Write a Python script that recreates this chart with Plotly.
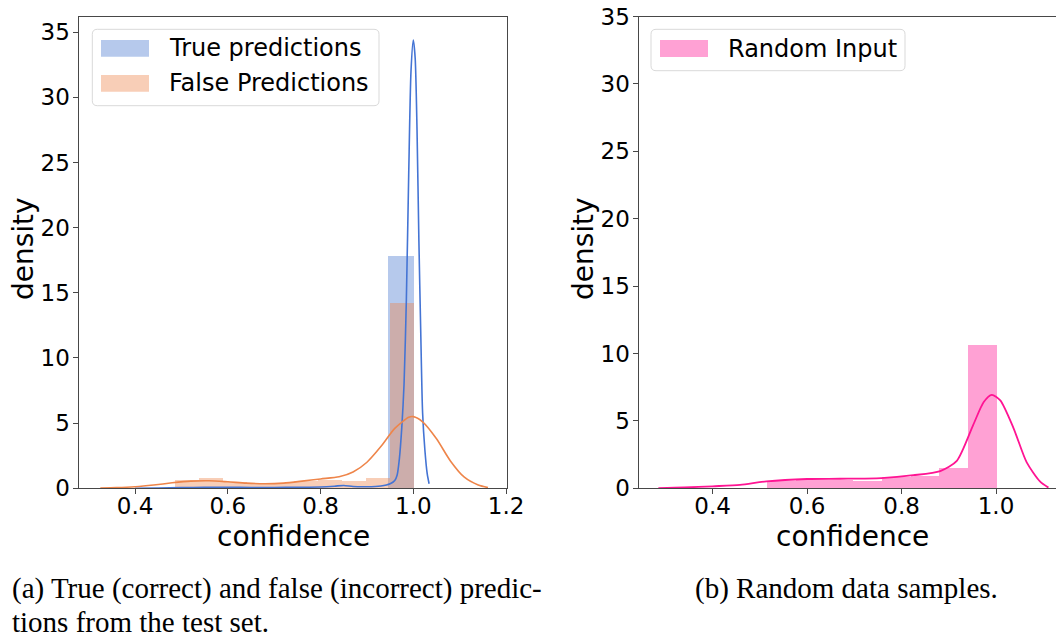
import plotly.graph_objects as go

# ---------------- data ----------------
# (a) histogram densities on the confidence axis
true_bin_edges = [0.437, 0.4933, 0.5496, 0.6059, 0.6622, 0.7185, 0.7748, 0.8311, 0.8874, 0.9437, 1.0]
true_density = [0.01, 0.02, 0.02, 0.01, 0.02, 0.02, 0.03, 0.05, 0.06, 17.83]

false_bin_edges = [0.4846, 0.5362, 0.5877, 0.6393, 0.6908, 0.7424, 0.7939, 0.8455, 0.8970, 0.9486, 1.0]
false_density = [0.64, 0.80, 0.50, 0.45, 0.45, 0.62, 0.70, 0.62, 0.82, 14.24]

# (a) kernel density estimates
true_kde_x = [0.40, 0.45, 0.50, 0.55, 0.60, 0.65, 0.70, 0.75, 0.80, 0.83, 0.85, 0.87, 0.90,
              0.93, 0.95, 0.96, 0.965, 0.97, 0.975, 0.98, 0.985, 0.99, 0.995, 1.0,
              1.004, 1.008, 1.012, 1.016, 1.02, 1.025, 1.03, 1.034]
true_kde_y = [0.0, 0.02, 0.05, 0.08, 0.08, 0.06, 0.06, 0.08, 0.10, 0.16, 0.22, 0.14, 0.12,
              0.18, 0.35, 0.6, 1.0, 2.3, 4.6, 8.0, 14.5, 24.0, 32.0, 34.4,
              33.0, 27.5, 19.0, 12.0, 5.8, 2.9, 1.1, 0.35]

false_kde_x = [0.325, 0.36, 0.40, 0.44, 0.48, 0.52, 0.56, 0.60, 0.64, 0.68, 0.72, 0.76,
               0.80, 0.84, 0.87, 0.90, 0.93, 0.96, 0.99, 1.00, 1.02, 1.05, 1.08, 1.11,
               1.14, 1.161]
false_kde_y = [0.02, 0.05, 0.12, 0.25, 0.42, 0.55, 0.58, 0.50, 0.40, 0.35, 0.40, 0.55,
               0.72, 0.88, 1.25, 2.0, 3.2, 4.6, 5.45, 5.5, 5.1, 3.8, 2.1, 0.85,
               0.25, 0.05]

# (b) random input
random_bin_edges = [0.5144, 0.5751, 0.6358, 0.6965, 0.7572, 0.8179, 0.8786, 0.9393, 1.0]
random_density = [0.61, 0.63, 0.62, 0.61, 0.87, 0.95, 1.58, 10.69]

random_kde_x = [0.285, 0.34, 0.40, 0.458, 0.514, 0.60, 0.67, 0.757, 0.825, 0.882, 0.917,
                0.952, 0.974, 0.991, 1.009, 1.037, 1.065, 1.093, 1.111]
random_kde_y = [0.02, 0.06, 0.15, 0.25, 0.51, 0.69, 0.71, 0.76, 0.97, 1.28, 2.04,
                4.73, 6.4, 6.93, 6.52, 4.47, 1.92, 0.51, 0.05]

x_ticks_a = [0.4, 0.6, 0.8, 1.0, 1.2]
x_ticks_b = [0.4, 0.6, 0.8, 1.0]
y_ticks = [0, 5, 10, 15, 20, 25, 30, 35]

legend_a = ["True predictions", "False Predictions"]
legend_b = ["Random Input"]
caption_a = ["(a) True (correct) and false (incorrect) predic-", "tions from the test set."]
caption_b = "(b) Random data samples."

# ---------------- styling ----------------
W, H = 1056, 637
BLUE = "#4474d4"
ORANGE = "#ee854a"
PINK = "#ff1493"
BLUE_FILL = "rgba(72,120,208,0.4)"
ORANGE_FILL = "rgba(238,133,74,0.4)"
PINK_FILL = "rgba(255,20,147,0.4)"
SPINE = "#474747"
SANS = "DejaVu Sans"
SERIF = "Liberation Serif"


def px(x):
    return x / W


def py(y):
    return 1 - y / H


def bars(edges, heights, color, xa, ya):
    centers = [(a + b) / 2 for a, b in zip(edges[:-1], edges[1:])]
    widths = [b - a for a, b in zip(edges[:-1], edges[1:])]
    return go.Bar(x=centers, y=heights, width=widths, marker=dict(color=color, line=dict(width=0)),
                  xaxis=xa, yaxis=ya, showlegend=False, hoverinfo="skip")


def kde(xs, ys, color, width, xa, ya):
    return go.Scatter(x=xs, y=ys, mode="lines", line=dict(color=color, width=width, shape="spline", smoothing=0.7),
                      xaxis=xa, yaxis=ya, showlegend=False, hoverinfo="skip")


fig = go.Figure()
fig.add_trace(bars(true_bin_edges, true_density, BLUE_FILL, "x", "y"))
fig.add_trace(bars(false_bin_edges, false_density, ORANGE_FILL, "x", "y"))
fig.add_trace(kde(true_kde_x, true_kde_y, BLUE, 1.6, "x", "y"))
fig.add_trace(kde(false_kde_x, false_kde_y, ORANGE, 1.6, "x", "y"))
fig.add_trace(bars(random_bin_edges, random_density, PINK_FILL, "x2", "y2"))
fig.add_trace(kde(random_kde_x, random_kde_y, PINK, 1.8, "x2", "y2"))

tick_font = dict(family=SANS, size=23, color="black")
axis_common = dict(showgrid=False, zeroline=False, showline=True, linecolor=SPINE, linewidth=1,
                   ticks="outside", ticklen=5, tickwidth=1, tickcolor=SPINE, tickfont=tick_font,
                   automargin=False)
x_common = dict(axis_common, ticklabelstandoff=-8)
y_common = dict(axis_common, ticklabelstandoff=-2)

y_dom = [py(488.3), py(16.5)]
fig.update_layout(
    width=W, height=H,
    margin=dict(l=0, r=0, t=0, b=0, pad=0),
    paper_bgcolor="white", plot_bgcolor="white",
    barmode="overlay", bargap=0,
    showlegend=False,
    xaxis=dict(domain=[px(78.5), px(507)], range=[0.278, 1.202], anchor="y", mirror=True,
               tickvals=x_ticks_a, ticktext=[f"{v:.1f}" for v in x_ticks_a], **x_common),
    yaxis=dict(domain=y_dom, range=[0, 36.2], anchor="x", mirror=True,
               tickvals=y_ticks, ticktext=[str(v) for v in y_ticks], **y_common),
    xaxis2=dict(domain=[px(638.5), 1.0], range=[0.243, 1.127], anchor="y2", mirror=True,
                tickvals=x_ticks_b, ticktext=[f"{v:.1f}" for v in x_ticks_b], **x_common),
    yaxis2=dict(domain=y_dom, range=[0, 35], anchor="x2", mirror=False,
                tickvals=y_ticks, ticktext=[str(v) for v in y_ticks], **y_common),
)


def rounded_rect(x0, y0, x1, y1, r=5):
    # pixel box -> paper path with rounded corners
    rx, ry = r / W, r / H
    X0, X1 = px(x0), px(x1)
    Y0, Y1 = py(y1), py(y0)
    return (f"M {X0 + rx},{Y0} L {X1 - rx},{Y0} Q {X1},{Y0} {X1},{Y0 + ry} "
            f"L {X1},{Y1 - ry} Q {X1},{Y1} {X1 - rx},{Y1} L {X0 + rx},{Y1} "
            f"Q {X0},{Y1} {X0},{Y1 - ry} L {X0},{Y0 + ry} Q {X0},{Y0} {X0 + rx},{Y0} Z")


shapes = []
annotations = []

# legend frames
shapes.append(dict(type="path", xref="paper", yref="paper", path=rounded_rect(92.3, 29.3, 379, 105.7),
                   line=dict(color="#d9d9d9", width=1), fillcolor="rgba(255,255,255,0.8)", layer="above"))
shapes.append(dict(type="path", xref="paper", yref="paper", path=rounded_rect(651, 29.3, 905, 70.7),
                   line=dict(color="#d9d9d9", width=1), fillcolor="rgba(255,255,255,0.8)", layer="above"))


def legend_entry(x_patch, y_mid, color, label):
    shapes.append(dict(type="rect", xref="paper", yref="paper", layer="above",
                       x0=px(x_patch), x1=px(x_patch + 48), y0=py(y_mid + 8.4), y1=py(y_mid - 8.4),
                       fillcolor=color, line=dict(width=0)))
    annotations.append(dict(x=px(x_patch + 66), y=py(y_mid), xref="paper", yref="paper",
                            text=label, showarrow=False, xanchor="left", yanchor="middle",
                            font=dict(family=SANS, size=24, color="black")))


legend_entry(101, 48.3, BLUE_FILL, legend_a[0])
legend_entry(101, 83.3, ORANGE_FILL, legend_a[1])
legend_entry(660, 48.5, PINK_FILL, legend_b[0])

# axis titles
title_font = dict(family=SANS, size=28, color="black")
annotations += [
    dict(x=px(293.6), y=py(536), text="confidence", showarrow=False, xanchor="center", yanchor="middle",
         xref="paper", yref="paper", font=title_font, borderpad=0),
    dict(x=px(852), y=py(536), text="confidence", showarrow=False, xanchor="center", yanchor="middle",
         xref="paper", yref="paper", font=title_font, borderpad=0),
    dict(x=px(23), y=py(249), text="density", textangle=-90, showarrow=False, xanchor="center",
         yanchor="middle", xref="paper", yref="paper", font=title_font, borderpad=0),
    dict(x=px(583), y=py(249), text="density", textangle=-90, showarrow=False, xanchor="center",
         yanchor="middle", xref="paper", yref="paper", font=title_font, borderpad=0),
]

# captions
cap_font = dict(family=SERIF, size=29, color="black")
annotations += [
    dict(x=px(11), y=py(588), text=caption_a[0], showarrow=False, xanchor="left", yanchor="middle",
         xref="paper", yref="paper", font=cap_font, borderpad=0),
    dict(x=px(11), y=py(622), text=caption_a[1], showarrow=False, xanchor="left", yanchor="middle",
         xref="paper", yref="paper", font=cap_font, borderpad=0),
    dict(x=px(846), y=py(588), text=caption_b, showarrow=False, xanchor="center", yanchor="middle",
         xref="paper", yref="paper", font=cap_font, borderpad=0),
]

fig.update_layout(shapes=shapes, annotations=annotations)
fig.write_html("out.html",
               post_script="document.body.style.margin='0';document.body.style.overflow='hidden';")
